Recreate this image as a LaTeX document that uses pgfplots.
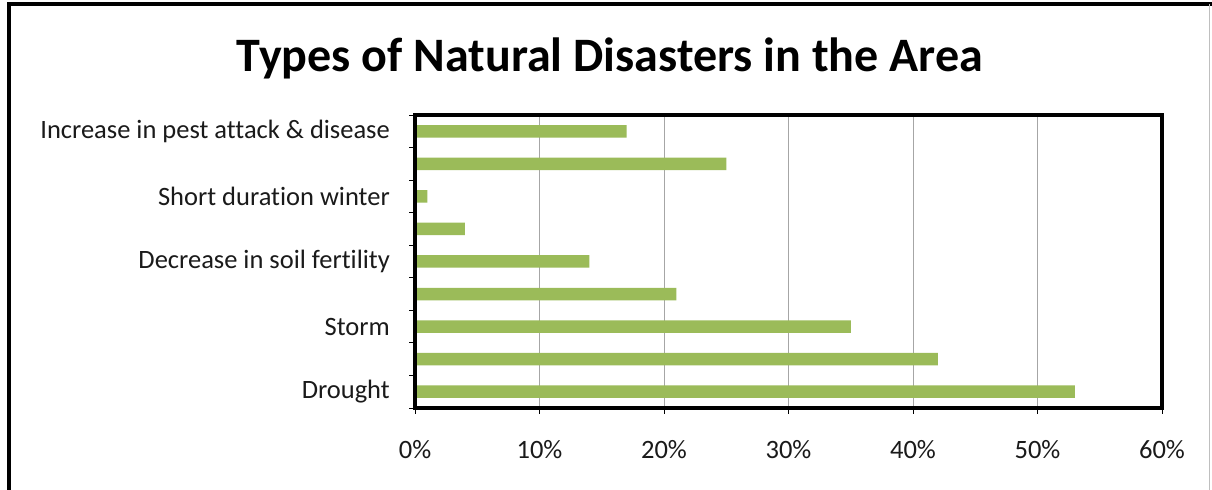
\documentclass[border=0pt]{standalone}
\usepackage{pgfplots}
\pgfplotsset{compat=1.18}
\usepackage{fontspec}
\setmainfont{Carlito}[Ligatures=NoCommon]
\definecolor{bargreen}{HTML}{9BBB59}
\definecolor{txt}{HTML}{1A1A1A}
\begin{document}
\begin{tikzpicture}[x=1bp,y=1bp]
\useasboundingbox (0,0) rectangle (1212,490);
\fill[white] (0,0) rectangle (1212,490);
\draw[line width=4bp] (8.5,0) -- (8.5,486) -- (1212,486);
\draw[gray!50, line width=1bp] (1209,0) -- (1209,486);
\node[font=\bfseries\fontsize{48.2}{56}\selectfont] at (610,432) {Types of Natural Disasters in the Area};
\begin{axis}[at={(415bp,82bp)}, anchor=south west, scale only axis,
 width=747bp, height=293bp,
 xbar, bar width=12.5bp,
 xmin=0, xmax=60, ymin=-0.5, ymax=8.5,
 xtick={0,10,...,60},
 xticklabels={0\%,10\%,20\%,30\%,40\%,50\%,60\%},
 ytick={0,2,4,6,8},
 yticklabels={Drought,Storm,Decrease in soil fertility,Short duration winter,Increase in pest attack \& disease},
 minor ytick={-0.5,0.5,...,8.5},
 xmajorgrids,
 major grid style={gray!70, line width=0.8bp},
 axis line style={line width=3.2bp},
 tick align=outside,
 major tick length=6bp, minor tick length=6bp,
 tick style={black, line width=0.8bp},
 major y tick style={draw=none},
 ticklabel style={font=\fontsize{26.6}{30}\selectfont, inner sep=0pt, text=txt},
 yticklabel style={xshift=-19bp},
 xticklabel style={yshift=-26bp},
 axis x line*=bottom, axis y line*=left,
 clip=false,
]
\addplot[draw=none, fill=bargreen] coordinates {
 (53,0) (42,1) (35,2) (21,3) (14,4) (4,5) (1,6) (25,7) (17,8)};
\end{axis}
\begin{axis}[at={(415bp,82bp)}, anchor=south west, scale only axis,
 width=747bp, height=293bp, xmin=0, xmax=60, ymin=-0.5, ymax=8.5,
 xtick=\empty, ytick=\empty, axis line style={line width=3.2bp}]
\end{axis}
\end{tikzpicture}
\end{document}
